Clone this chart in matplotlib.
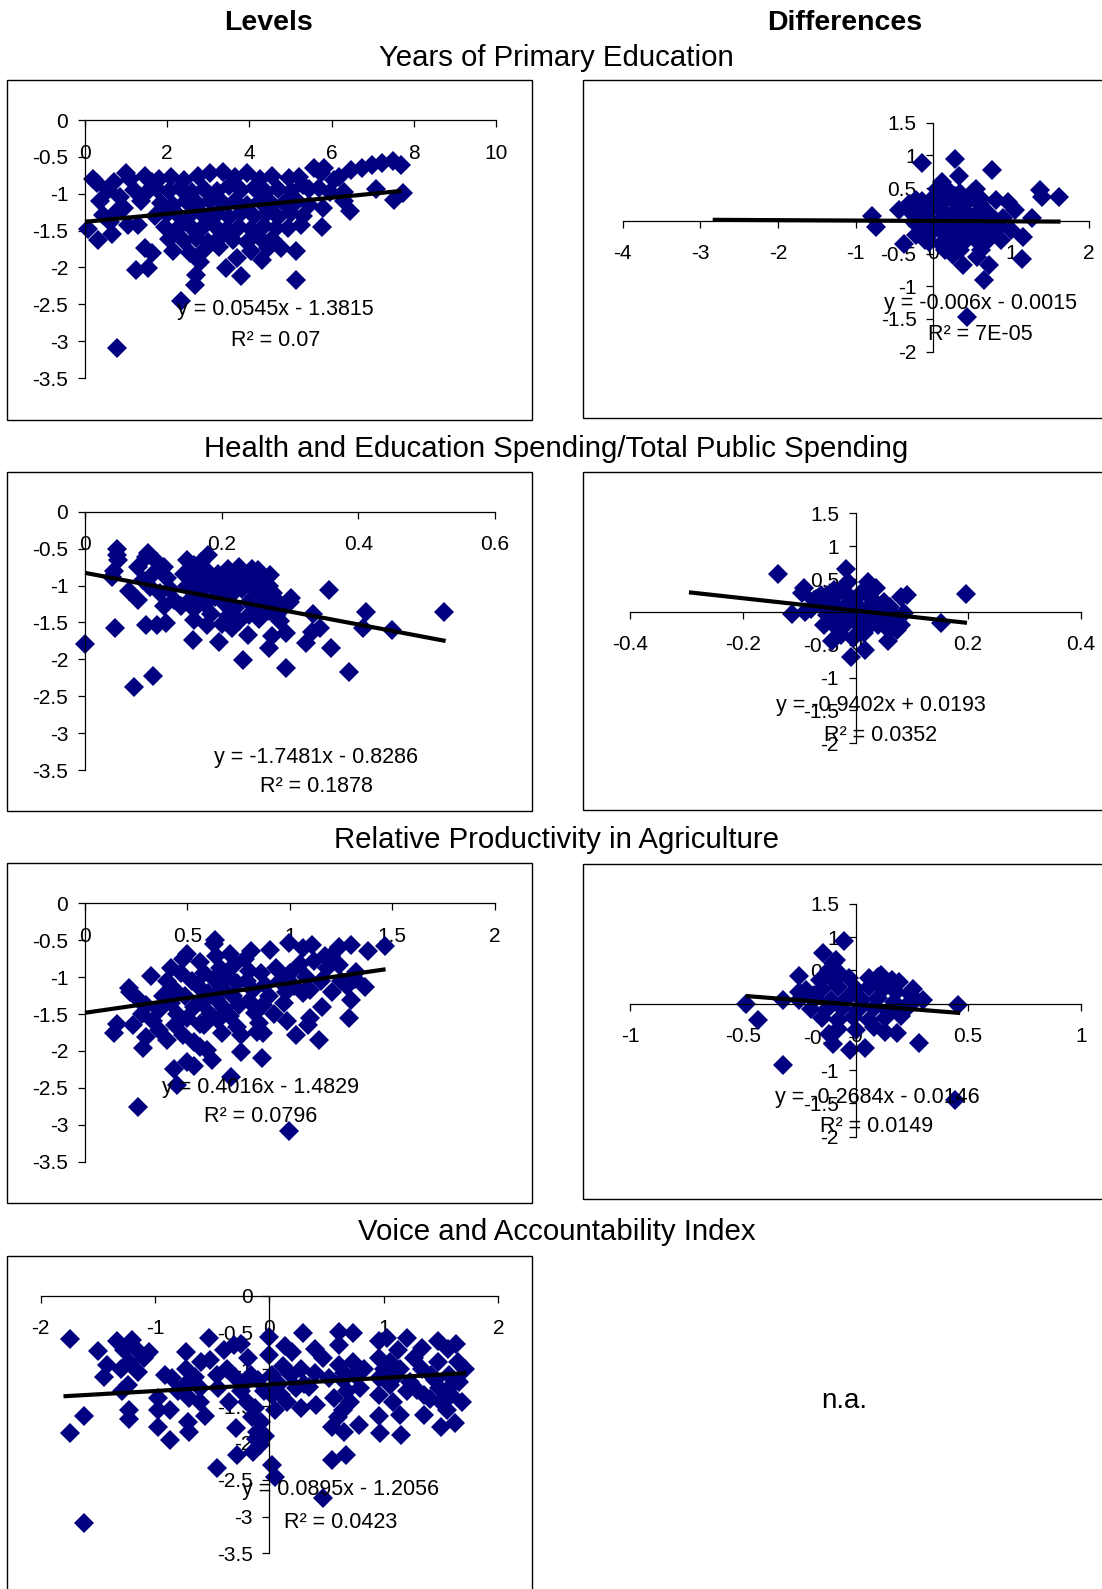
import numpy as np
import matplotlib
matplotlib.use("Agg")
import matplotlib.pyplot as plt
from matplotlib.patches import Rectangle
from matplotlib.ticker import FuncFormatter

plt.rcParams["font.family"] = ["Liberation Sans", "DejaVu Sans"]

W, H = 1102, 1589
NAVY = "#000080"

# ---------------- data ----------------
HEADERS = ["Levels", "Differences"]
ROW_TITLES = ["Years of Primary Education",
              "Health and Education Spending/Total Public Spending",
              "Relative Productivity in Agriculture",
              "Voice and Accountability Index"]

# Years of primary education, levels
EDU_LEV = [
    (0.07, -1.48), (0.19, -0.80), (0.32, -1.63), (0.36, -1.10), (0.45, -1.29), (0.65, -1.54),
    (0.70, -0.84), (0.78, -3.09), (0.60, -1.38), (0.99, -0.72), (0.30, -0.85), (0.55, -0.95),
    (0.85, -1.05), (0.95, -1.20), (1.10, -0.80), (1.20, -0.95), (0.75, -1.25), (1.05, -1.42),
    (1.24, -2.03), (1.53, -2.01), (1.28, -1.42), (1.37, -1.10), (1.45, -1.74), (1.62, -1.81),
    (1.62, -0.84), (2.33, -2.46), (2.67, -2.24), (2.71, -2.10), (2.79, -1.92), (3.42, -2.01),
    (3.71, -1.87), (3.80, -2.12), (4.30, -1.90), (4.76, -1.74), (5.14, -1.78), (5.14, -2.17),
    (5.77, -1.45), (6.44, -1.24), (6.48, -0.68), (6.73, -0.65), (6.98, -0.61), (7.07, -0.93),
    (7.23, -0.59), (7.49, -0.56), (7.69, -0.61), (7.53, -1.08), (7.74, -0.99), (6.31, -0.97),
    (6.19, -0.77), (6.31, -1.10), (5.81, -0.65), (5.56, -0.65), (5.31, -0.88), (4.97, -0.79),
    (1.45, -0.76), (1.80, -0.80), (2.10, -0.78), (2.40, -0.82), (2.75, -0.76), (3.05, -0.72),
    (3.35, -0.70), (3.65, -0.78), (3.95, -0.72), (4.25, -0.80), (4.55, -0.76), (5.20, -0.78),
    (5.75, -0.72), (6.05, -0.82),
    (1.50, -0.98), (1.75, -0.94), (2.05, -0.96), (2.30, -0.92), (2.60, -0.97), (2.90, -0.93),
    (3.20, -0.96), (3.50, -0.90), (3.80, -0.95), (4.10, -0.92), (4.40, -0.97), (4.70, -0.93),
    (5.00, -0.96), (5.45, -0.94), (5.70, -0.92), (5.95, -0.98),
    (1.85, -1.12), (2.15, -1.15), (2.45, -1.10), (2.75, -1.14), (3.05, -1.10), (3.35, -1.13),
    (3.65, -1.10), (3.95, -1.15), (4.25, -1.10), (4.55, -1.14), (4.85, -1.12), (5.15, -1.10),
    (5.45, -1.15), (5.80, -1.20),
    (1.70, -1.30), (2.00, -1.28), (2.30, -1.32), (2.60, -1.26), (2.90, -1.30), (3.20, -1.28),
    (3.50, -1.32), (3.80, -1.26), (4.10, -1.30), (4.40, -1.28), (4.70, -1.32), (5.00, -1.26),
    (5.30, -1.30),
    (1.95, -1.45), (2.25, -1.48), (2.55, -1.44), (2.85, -1.47), (3.15, -1.43), (3.45, -1.48),
    (3.75, -1.45), (4.05, -1.48), (4.35, -1.44), (4.65, -1.47), (4.95, -1.46), (5.25, -1.42),
    (2.05, -1.62), (2.40, -1.64), (2.70, -1.60), (3.00, -1.65), (3.30, -1.58), (3.60, -1.63),
    (3.95, -1.66), (4.25, -1.60), (4.55, -1.62),
    (2.15, -1.78), (2.55, -1.80), (2.90, -1.76), (3.25, -1.72), (4.05, -1.78), (4.45, -1.74),
]

# Years of primary education, differences
EDU_DIF = [
    (-0.15, 0.89), (0.28, 0.95), (0.33, 0.68), (0.76, 0.77), (0.11, 0.60), (1.38, 0.47),
    (1.40, 0.37), (1.62, 0.37), (0.55, 0.49), (0.35, 0.42), (-0.79, 0.08), (-0.74, -0.09),
    (-0.44, 0.16), (-0.31, 0.26), (-0.22, 0.32), (1.27, 0.04), (1.05, 0.16), (0.96, 0.29),
    (0.81, 0.32), (1.00, -0.14), (1.16, -0.24), (0.87, -0.30), (1.14, -0.58), (0.72, -0.68),
    (0.66, -0.91), (0.39, -0.68), (0.44, -1.47), (0.26, -0.52), (0.57, -0.55), (-0.37, -0.35),
    (-0.22, -0.22),
    (-0.15, 0.30), (0.00, 0.35), (0.15, 0.32), (0.30, 0.28), (0.45, 0.30), (0.60, 0.25),
    (-0.20, 0.12), (-0.05, 0.15), (0.10, 0.18), (0.25, 0.12), (0.40, 0.16), (0.55, 0.10),
    (0.70, 0.12), (-0.25, -0.02), (-0.10, 0.00), (0.05, -0.03), (0.20, 0.02), (0.35, -0.02),
    (0.50, 0.00), (0.65, -0.04), (0.80, 0.02), (-0.15, -0.18), (0.00, -0.15), (0.15, -0.20),
    (0.30, -0.16), (0.45, -0.18), (0.60, -0.15), (0.75, -0.20), (-0.05, -0.32), (0.10, -0.35),
    (0.25, -0.30), (0.40, -0.33), (0.55, -0.30), (0.05, 0.48), (0.20, 0.45), (0.50, 0.42),
    (0.90, 0.05), (0.85, -0.10), (-0.30, 0.15), (0.15, -0.45), (0.35, -0.45),
    (0.05, 0.25), (0.35, 0.05), (0.20, -0.08), (0.45, -0.08), (0.60, 0.35), (0.70, -0.30),
    (-0.10, -0.30), (0.28, 0.38), (0.62, -0.45),
]

# Health and education spending share, levels
SPEND_LEV = [
    (0.000, -1.79), (0.047, -0.51), (0.047, -0.59), (0.049, -0.65), (0.042, -0.81), (0.039, -0.88),
    (0.044, -1.58), (0.065, -1.08), (0.072, -2.37), (0.100, -2.23), (0.077, -1.20), (0.077, -0.75),
    (0.092, -0.56), (0.090, -1.54), (0.105, -1.54), (0.118, -1.51), (0.158, -1.74), (0.160, -1.47),
    (0.180, -0.59), (0.196, -1.76), (0.178, -1.54), (0.231, -2.01), (0.239, -1.67), (0.254, -0.79),
    (0.271, -0.86), (0.269, -1.85), (0.274, -1.69), (0.294, -2.12), (0.294, -1.65), (0.302, -1.17),
    (0.324, -1.78), (0.332, -1.63), (0.334, -1.38), (0.344, -1.58), (0.357, -1.06), (0.360, -1.85),
    (0.387, -2.17), (0.407, -1.58), (0.412, -1.36), (0.450, -1.60), (0.526, -1.36),
    (0.090, -0.62), (0.105, -0.68), (0.115, -0.75), (0.100, -0.85), (0.085, -0.92), (0.120, -0.90),
    (0.095, -1.02), (0.110, -1.10), (0.125, -1.05), (0.130, -1.20), (0.115, -1.28), (0.140, -1.28),
    (0.150, -0.65), (0.160, -0.72), (0.170, -0.68), (0.145, -0.85), (0.165, -0.90), (0.180, -0.82),
    (0.150, -1.00), (0.170, -1.08), (0.185, -0.98), (0.155, -1.18), (0.175, -1.25), (0.190, -1.15),
    (0.160, -1.32), (0.185, -1.38), (0.195, -0.85), (0.210, -0.78), (0.225, -0.75), (0.205, -0.95),
    (0.220, -0.92), (0.235, -0.88), (0.200, -1.08), (0.215, -1.12), (0.230, -1.05), (0.245, -1.00),
    (0.205, -1.25), (0.220, -1.30), (0.240, -1.22), (0.210, -1.42), (0.225, -1.48), (0.240, -1.40),
    (0.215, -1.58), (0.200, -1.52), (0.250, -0.85), (0.260, -0.95), (0.255, -1.10), (0.265, -1.20),
    (0.250, -1.30), (0.270, -1.35), (0.255, -1.45), (0.275, -1.10), (0.285, -1.25), (0.280, -1.42),
    (0.290, -1.30), (0.300, -1.22), (0.245, -0.78), (0.270, -1.00), (0.285, -1.48),
]

# Health and education spending share, differences
SPEND_DIF = [
    (-0.137, 0.58), (-0.017, 0.66), (-0.113, -0.03), (-0.092, 0.36), (-0.095, 0.28), (-0.089, 0.00),
    (-0.074, 0.18), (-0.062, 0.26), (-0.056, -0.20), (-0.041, -0.45), (-0.032, -0.25), (-0.008, -0.68),
    (0.016, -0.58), (0.058, -0.45), (0.074, -0.27), (0.052, -0.15), (0.022, 0.46), (0.037, 0.36),
    (0.080, 0.23), (0.092, 0.26), (0.086, -0.02), (0.061, 0.08), (0.152, -0.17), (0.197, 0.27),
    (-0.014, 0.46), (-0.038, 0.33),
    (-0.050, 0.25), (-0.030, 0.30), (-0.010, 0.22), (0.010, 0.28), (0.030, 0.20), (0.050, 0.15),
    (-0.060, 0.10), (-0.040, 0.12), (-0.020, 0.08), (0.000, 0.12), (0.020, 0.05), (0.040, 0.08),
    (0.060, 0.02), (-0.050, -0.05), (-0.030, -0.02), (-0.010, -0.08), (0.010, -0.04), (0.030, -0.10),
    (0.050, -0.06), (0.070, -0.12), (-0.040, -0.18), (-0.020, -0.22), (0.000, -0.16), (0.020, -0.25),
    (0.040, -0.20), (0.060, -0.28), (-0.025, -0.35), (-0.005, -0.40), (0.015, -0.32), (-0.070, 0.20),
    (-0.080, 0.05), (0.080, -0.20), (0.030, 0.38),
]

# Relative productivity in agriculture, levels
AGRI_LEV = [
    (0.14, -1.76), (0.156, -1.64), (0.215, -1.15), (0.232, -1.65), (0.257, -2.76), (0.282, -1.96),
    (0.299, -1.81), (0.324, -0.99), (0.434, -2.24), (0.450, -2.46), (0.500, -2.15), (0.534, -2.20),
    (0.560, -1.63), (0.593, -1.99), (0.618, -2.12), (0.635, -0.50), (0.711, -2.35), (0.761, -2.01),
    (0.812, -0.65), (0.862, -2.10), (0.837, -1.74), (0.904, -0.63), (0.997, -0.54), (0.997, -3.09),
    (0.988, -1.60), (1.030, -1.78), (1.064, -1.21), (1.064, -0.61), (1.106, -0.56), (1.097, -1.56),
    (1.090, -1.65), (1.140, -1.85), (1.156, -1.40), (1.170, -0.72), (1.240, -0.59), (1.240, -0.84),
    (1.300, -0.56), (1.290, -1.56), (1.300, -1.31), (1.316, -1.02), (1.366, -1.13), (1.383, -0.65),
    (1.464, -0.58), (1.207, -1.20), (1.324, -0.93),
    (0.22, -1.20), (0.26, -1.30), (0.30, -1.38), (0.28, -1.50), (0.33, -1.60), (0.36, -1.45),
    (0.38, -1.25), (0.36, -1.72), (0.40, -1.85), (0.42, -0.88), (0.40, -1.05), (0.44, -1.18),
    (0.42, -1.35), (0.45, -1.50), (0.44, -1.65), (0.48, -0.75), (0.50, -0.68), (0.47, -0.95),
    (0.52, -1.05), (0.49, -1.25), (0.53, -1.40), (0.50, -1.55), (0.48, -1.78), (0.53, -1.88),
    (0.56, -0.80), (0.58, -0.95), (0.55, -1.12), (0.60, -1.22), (0.57, -1.35), (0.61, -1.50),
    (0.58, -1.65), (0.56, -1.95), (0.63, -0.55), (0.64, -0.72), (0.66, -0.88), (0.63, -1.02),
    (0.67, -1.15), (0.64, -1.30), (0.68, -1.42), (0.65, -1.58), (0.67, -1.75), (0.71, -0.68),
    (0.73, -0.82), (0.70, -0.98), (0.74, -1.08), (0.72, -1.25), (0.75, -1.38), (0.71, -1.52),
    (0.74, -1.68), (0.76, -1.78), (0.78, -0.75), (0.80, -0.92), (0.79, -1.05), (0.82, -1.18),
    (0.80, -1.32), (0.83, -1.48), (0.85, -1.62), (0.87, -1.75), (0.86, -0.95), (0.88, -1.10),
    (0.90, -1.25), (0.87, -1.38), (0.92, -1.50), (0.93, -0.88), (0.95, -1.05), (0.98, -1.20),
    (0.97, -1.35), (1.00, -0.95), (1.02, -1.12), (1.05, -0.82), (1.08, -1.00), (1.10, -1.18),
    (1.12, -0.78), (1.15, -1.05), (1.18, -0.88), (1.20, -0.72), (1.25, -1.05), (1.28, -1.12),
]

# Relative productivity in agriculture, differences
AGRI_DIF = [
    (-0.485, 0.00), (-0.432, -0.25), (-0.322, 0.05), (-0.322, -0.92), (-0.251, 0.42), (-0.251, 0.17),
    (-0.145, 0.76), (-0.050, 0.95), (-0.100, -0.60), (-0.025, -0.70), (0.043, -0.67), (0.133, -0.42),
    (0.186, -0.44), (0.284, -0.59), (0.457, -0.02), (0.442, -1.45), (0.194, 0.32), (0.254, 0.22),
    (0.111, 0.43), (0.058, 0.38), (-0.085, 0.66), (-0.183, 0.13), (0.254, 0.03),
    (-0.10, 0.62), (-0.12, 0.50), (-0.07, 0.45), (-0.16, 0.35), (-0.10, 0.35), (-0.03, 0.38),
    (0.10, 0.40), (0.16, 0.35), (-0.22, 0.20), (-0.15, 0.22), (-0.08, 0.25), (0.00, 0.22),
    (0.06, 0.25), (0.12, 0.22), (0.18, 0.18), (0.24, 0.15), (-0.25, 0.05), (-0.18, 0.08),
    (-0.11, 0.05), (-0.04, 0.08), (0.03, 0.05), (0.10, 0.08), (0.17, 0.03), (0.24, 0.02),
    (0.30, 0.05), (-0.20, -0.08), (-0.13, -0.10), (-0.06, -0.06), (0.01, -0.10), (0.08, -0.07),
    (0.15, -0.12), (0.22, -0.10), (-0.15, -0.22), (-0.08, -0.25), (-0.01, -0.20), (0.06, -0.24),
    (0.13, -0.22), (0.20, -0.18), (-0.08, -0.38), (0.00, -0.40), (0.08, -0.35), (-0.12, -0.45),
]

# Voice and accountability index, levels
VOICE_LEV = [
    (-1.745, -0.59), (-1.62, -1.64), (-1.745, -1.86), (-1.62, -3.09), (-1.50, -0.75), (-1.45, -1.10),
    (-1.42, -0.94), (-1.33, -0.62), (-1.27, -0.74), (-1.23, -0.90), (-1.17, -0.72), (-1.15, -1.03),
    (-1.24, -1.21), (-1.29, -1.30), (-1.23, -1.55), (-1.23, -1.67), (-1.05, -0.76), (-0.97, -1.39),
    (-0.97, -1.55), (-0.97, -1.78), (-0.91, -1.08), (-0.87, -1.96), (-0.85, -1.12), (-0.87, -1.55),
    (-0.73, -0.76), (-0.73, -0.99), (-0.71, -1.17), (-0.70, -1.39), (-0.71, -1.71), (-0.70, -1.85),
    (-0.61, -1.26), (-0.61, -1.44), (-0.56, -1.64), (-0.53, -0.58), (-0.52, -0.87), (-0.46, -1.08),
    (-0.46, -2.34), (-0.40, -0.74), (-0.37, -0.99), (-0.31, -0.67), (-0.25, -0.65), (-0.29, -1.80),
    (-0.28, -2.16), (-0.25, -1.30), (-0.19, -0.85), (-0.16, -1.08), (-0.13, -1.53), (-0.11, -1.85),
    (-0.08, -2.03), (-0.14, -2.12), (-0.07, -1.71), (0.00, -0.56), (0.00, -0.81), (0.02, -1.08),
    (0.02, -1.35), (0.02, -2.30), (0.05, -2.46), (0.10, -1.35), (0.14, -0.69), (0.20, -0.76),
    (0.19, -1.08), (0.23, -1.26), (0.28, -0.99), (0.28, -1.53), (0.29, -0.51), (0.35, -1.24),
    (0.40, -0.72), (0.41, -1.48), (0.47, -0.85), (0.47, -2.75), (0.52, -1.12), (0.55, -2.23),
    (0.55, -1.78), (0.56, -1.39), (0.61, -0.49), (0.61, -0.67), (0.61, -0.94), (0.64, -1.15),
    (0.64, -1.55), (0.65, -1.85), (0.67, -2.16), (0.68, -1.30), (0.73, -0.51), (0.73, -0.90),
    (0.75, -1.08), (0.78, -1.76), (0.79, -1.26), (0.83, -0.99), (0.96, -0.62), (0.96, -0.85),
    (0.96, -1.12), (0.96, -1.35), (0.96, -1.64), (0.97, -1.87), (1.03, -0.58), (1.05, -0.90),
    (1.05, -1.21), (1.08, -1.44), (1.12, -0.74), (1.14, -0.99), (1.14, -1.62), (1.15, -1.89),
    (1.20, -0.58), (1.23, -1.17), (1.26, -0.84), (1.29, -1.28), (1.33, -0.71), (1.33, -0.99),
    (1.35, -1.35), (1.35, -1.62), (1.41, -1.08), (1.47, -0.62), (1.47, -0.90), (1.48, -1.26),
    (1.50, -1.44), (1.50, -1.78), (1.56, -0.72), (1.57, -1.08), (1.59, -1.35), (1.62, -1.73),
    (1.63, -0.65), (1.65, -0.90), (1.66, -1.17), (1.68, -1.44), (1.71, -0.99),
    (-0.30, -1.10), (-0.22, -1.20), (-0.10, -1.15), (-0.05, -1.30), (0.08, -1.20), (0.12, -0.95),
    (-0.35, -1.45), (-0.20, -1.45), (0.05, -1.55), (0.15, -1.45), (-0.15, -1.65), (-0.12, -1.95),
    (-0.04, -1.90), (0.30, -1.20), (0.40, -1.05), (0.65, -1.05), (0.70, -1.45), (0.60, -1.65),
    (1.00, -1.00), (1.10, -1.10), (1.20, -1.30), (1.40, -1.40), (1.55, -1.55), (1.45, -1.15),
    (1.60, -1.20), (-0.80, -1.30), (-0.65, -1.10), (-0.45, -1.25), (-0.60, -0.90), (-1.30, -1.00),
    (-1.10, -0.85), (-1.20, -0.60),
]

# trend lines: slope, intercept, x-span; equation labels
SLOPES = [0.0545, -0.006, -1.7481, -0.9402, 0.4016, -0.2684, 0.0895]
INTERCEPTS = [-1.3815, -0.0015, -0.8286, 0.0193, -1.4829, -0.0146, -1.2056]
TREND_SPAN = [(0.0, 7.7), (-2.84, 1.64), (0.0, 0.528), (-0.296, 0.198),
              (0.0, 1.467), (-0.488, 0.465), (-1.80, 1.72)]
EQ_TEXT = ["y = 0.0545x - 1.3815", "y = -0.006x - 0.0015", "y = -1.7481x - 0.8286",
           "y = -0.9402x + 0.0193", "y = 0.4016x - 1.4829", "y = -0.2684x - 0.0146",
           "y = 0.0895x - 1.2056"]
R2_TEXT = ["R² = 0.07", "R² = 7E-05", "R² = 0.1878", "R² = 0.0352",
           "R² = 0.0796", "R² = 0.0149", "R² = 0.0423"]

SERIES = [EDU_LEV, EDU_DIF, SPEND_LEV, SPEND_DIF, AGRI_LEV, AGRI_DIF, VOICE_LEV]

# ---------------- layout (pixels of the 1102x1589 canvas) ----------------
AX_RECT = [(85, 120, 496, 378), (622.6, 122.7, 1088.5, 351.7),
           (85, 511.7, 494.8, 770), (630.4, 513.3, 1080.7, 743.3),
           (85, 903.3, 494.8, 1161.7), (630.4, 904, 1080.7, 1136.7),
           (40.6, 1295.7, 498.3, 1553.3)]
BOX_RECT = [(7, 80, 532, 420), (583, 80, 1106, 418),
            (7, 472, 532, 811), (583, 472, 1106, 810),
            (7, 863, 532, 1203), (583, 864, 1106, 1199),
            (7, 1256, 532, 1600)]
LIMITS = [((0, 10), 2, (-3.5, 0), 0.5), ((-4, 2), 1, (-2, 1.5), 0.5),
          ((0, 0.6), 0.2, (-3.5, 0), 0.5), ((-0.4, 0.4), 0.2, (-2, 1.5), 0.5),
          ((0, 2), 0.5, (-3.5, 0), 0.5), ((-1, 1), 0.5, (-2, 1.5), 0.5),
          ((-2, 2), 1, (-3.5, 0), 0.5)]
EQ_POS = [(275.5, 310, 340), (980.6, 304, 334), (316, 757, 787), (880.5, 706, 735),
          (260.7, 1087, 1117), (877, 1097, 1127), (341, 1490, 1522)]

fig = plt.figure(figsize=(W / 100, H / 100), dpi=100)
fig.patch.set_facecolor("white")

fmt = FuncFormatter(lambda v, p: f"{round(v, 6) + 0:g}")

for i, pts in enumerate(SERIES):
    l, t, r, b = BOX_RECT[i]
    fig.add_artist(Rectangle((l / W, 1 - b / H), (r - l) / W, (b - t) / H,
                             transform=fig.transFigure, fill=False, lw=1.0, ec="black"))

    l, t, r, b = AX_RECT[i]
    ax = fig.add_axes([l / W, 1 - b / H, (r - l) / W, (b - t) / H])
    ax.patch.set_visible(False)
    xlim, xstep, ylim, ystep = LIMITS[i]
    ax.set_xlim(xlim)
    ax.set_ylim(ylim)
    ax.set_xticks(np.arange(xlim[0], xlim[1] + xstep / 2, xstep))
    ax.set_yticks(np.arange(ylim[0], ylim[1] + ystep / 2, ystep))
    ax.xaxis.set_major_formatter(fmt)
    ax.yaxis.set_major_formatter(fmt)
    for s in ("top", "right"):
        ax.spines[s].set_visible(False)
    for s in ("left", "bottom"):
        ax.spines[s].set_position(("data", 0))
        ax.spines[s].set_linewidth(0.9)
    ax.tick_params(axis="x", direction="out", length=5, width=0.9, pad=12, labelsize=15)
    ax.tick_params(axis="y", direction="out", length=5, width=0.9, pad=7, labelsize=15)

    arr = np.array(pts)
    ax.plot(arr[:, 0], arr[:, 1], ls="none", marker="D", ms=10.5, mew=0,
            color=NAVY, clip_on=False, zorder=2)

    xs = np.array(TREND_SPAN[i])
    ax.plot(xs, SLOPES[i] * xs + INTERCEPTS[i], color="black", lw=3,
            solid_capstyle="butt", clip_on=False, zorder=3)

    ex, ey1, ey2 = EQ_POS[i]
    fig.text(ex / W, 1 - ey1 / H, EQ_TEXT[i], ha="center", va="center", fontsize=15.5)
    fig.text(ex / W, 1 - ey2 / H, R2_TEXT[i], ha="center", va="center", fontsize=15.5)

fig.text(268.7 / W, 1 - 23 / H, HEADERS[0], ha="center", va="center",
         fontsize=20.5, fontweight="bold")
fig.text(844.5 / W, 1 - 23 / H, HEADERS[1], ha="center", va="center",
         fontsize=20.5, fontweight="bold")
for title, ty in zip(ROW_TITLES, [57.5, 449, 840.5, 1232.5]):
    fig.text(556.6 / W, 1 - ty / H, title, ha="center", va="center", fontsize=21.2)

fig.text(844.5 / W, 1 - 1401 / H, "n.a.", ha="center", va="center", fontsize=20)

fig.savefig("out.png", dpi=100, facecolor="white")
